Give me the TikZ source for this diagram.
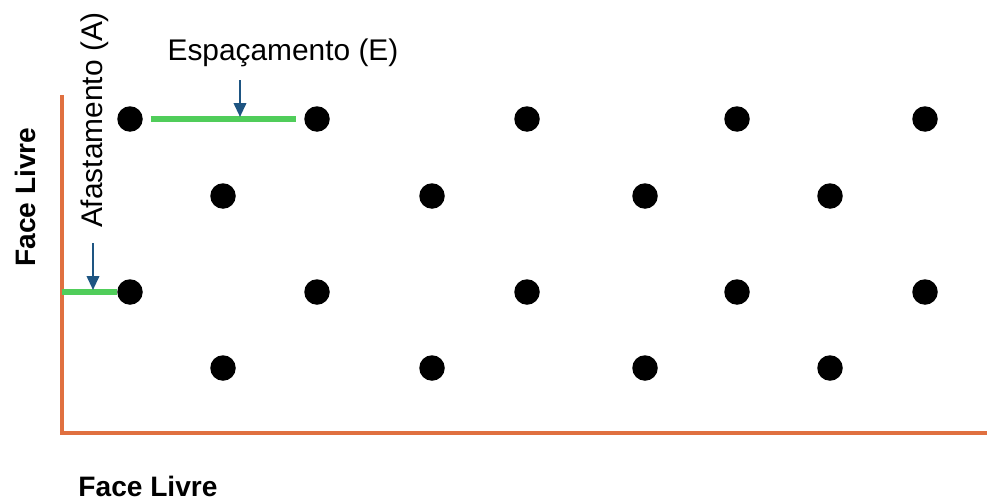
\documentclass[tikz,border=0pt]{standalone}
\usepackage{fontspec}
\setmainfont{Liberation Sans}
\usetikzlibrary{arrows.meta}

\definecolor{laranja}{RGB}{224,112,64}
\definecolor{verde}{RGB}{80,205,90}
\definecolor{azul}{RGB}{30,85,130}

\tikzset{
	furo/.style={circle, fill=black, inner sep=0pt, minimum size=5.1mm},
	linhaverde/.style={verde, line width=3.6pt},
	seta/.style={azul, line width=1.3pt, -{Triangle[length=2.8mm,width=2.5mm]}},
	rotulo/.style={font=\fontsize{17}{20}\selectfont, inner sep=0pt},
	face/.style={font=\bfseries\fontsize{16}{19}\selectfont, inner sep=0pt}
}

\begin{document}
\begin{tikzpicture}[x=0.2mm, y=-0.2mm]
	\useasboundingbox (0,0) rectangle (987,500);
	%faces livres
	\coordinate (topo) at (62,95);
	\coordinate (canto) at (62,433);
	\coordinate (fim) at (987,433);
	\draw[laranja, line width=2pt] (topo) -- (canto) -- (fim);
	\node[face, rotate=90] (faceV) at (25,197) {Face Livre};
	\node[face] (faceH) at (148,486) {Face Livre};
	%os furos
	\node[furo] (a1) at (130,119) {};
	\node[furo] (a2) at (317,119) {};
	\node[furo] (a3) at (527,119) {};
	\node[furo] (a4) at (737,119) {};
	\node[furo] (a5) at (925,119) {};
	\node[furo] (b1) at (223,196) {};
	\node[furo] (b2) at (432,196) {};
	\node[furo] (b3) at (645,196) {};
	\node[furo] (b4) at (830,196) {};
	\node[furo] (c1) at (130,292) {};
	\node[furo] (c2) at (317,292) {};
	\node[furo] (c3) at (527,292) {};
	\node[furo] (c4) at (737,292) {};
	\node[furo] (c5) at (925,292) {};
	\node[furo] (d1) at (223,368) {};
	\node[furo] (d2) at (432,368) {};
	\node[furo] (d3) at (645,368) {};
	\node[furo] (d4) at (830,368) {};
	%espacamento
	\draw[linhaverde, shorten <=1.5mm, shorten >=1.5mm] (a1) -- (a2);
	\node[rotulo] (txtE) at (283,53) {Espaçamento (E)};
	\coordinate (iniE) at (240,80);
	\coordinate (ptE) at (240,117);
	\draw[seta] (iniE) -- (ptE);
	%afastamento
	\coordinate (faceA) at (62,292);
	\draw[linhaverde] (faceA) -- (c1);
	\node[rotulo, rotate=90] (txtA) at (95,120) {Afastamento (A)};
	\coordinate (iniA) at (93,243);
	\coordinate (ptA) at (93,290);
	\draw[seta] (iniA) -- (ptA);
\end{tikzpicture}
\end{document}
